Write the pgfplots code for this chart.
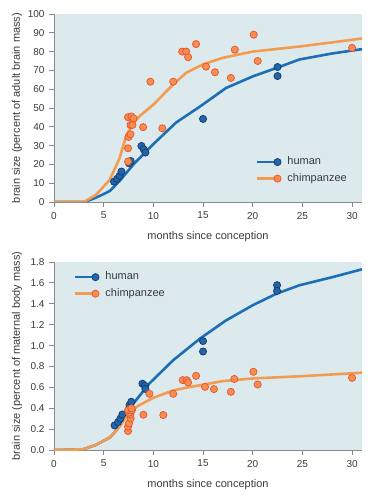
\documentclass[border=0pt]{standalone}
\usepackage{pgfplots}
\pgfplotsset{compat=1.18}
\usepackage{fontspec}
\setmainfont{Liberation Sans}
\definecolor{bgc}{HTML}{DDEAED}
\definecolor{hline}{HTML}{1D6FB5}
\definecolor{hfill}{HTML}{2364AA}
\definecolor{hedge}{HTML}{103C6C}
\definecolor{cline}{HTML}{F29C52}
\definecolor{cfill}{HTML}{FA8C52}
\definecolor{cedge}{HTML}{E2552A}
\definecolor{txt}{HTML}{3A3A3A}
\definecolor{axc}{HTML}{8A8A8A}
\tikzset{
  hmk/.style={draw=hedge, fill=hfill, line width=0.7pt},
  cmk/.style={draw=cedge, fill=cfill, line width=0.7pt},
}
\pgfplotsset{
  myaxis/.style={
    scale only axis, width=308pt, height=188pt,
    xmin=0, xmax=31, ymin=0,
    axis lines=left, axis line style={-, draw=axc, line width=0.8pt},
    axis background/.style={fill=bgc},
    tick align=outside, major tick length=5pt,
    tick style={draw=axc, line width=0.8pt},
    hide obscured x ticks=false, hide obscured y ticks=false,
    xtick={0,5,...,30},
    /pgf/number format/assume math mode=true,
    tick label style={font=\fontsize{10}{12}\selectfont, text=txt},
    xticklabel style={yshift=-1.5pt},
    yticklabel style={xshift=-1pt},
    label style={font=\fontsize{11}{13}\selectfont, text=txt},
    xlabel={months since conception},
    xlabel style={at={(axis description cs:0.5,0)}, anchor=center, yshift=-35pt},
    ylabel style={at={(axis description cs:-0.1201,0.5)}, anchor=center},
    legend style={draw=none, fill=none, inner sep=0pt, row sep=2pt,
      font=\fontsize{11}{13}\selectfont, text=txt,
      nodes={text height=8pt, text depth=2.5pt, inner sep=2pt},
      column sep=4pt},
    legend cell align=left,
  },
  hleg/.style={legend image code/.code={
      \draw[hline, line width=2.6pt] (0pt,0pt) -- (18pt,0pt);
      \draw[hmk] (21pt,0pt) circle (3.6pt);}},
  cleg/.style={legend image code/.code={
      \draw[cline, line width=2.6pt] (0pt,0pt) -- (18pt,0pt);
      \draw[cmk] (21pt,0pt) circle (3.6pt);}},
}
\begin{document}
\begin{tikzpicture}
\path[use as bounding box] (-54pt,-298pt) rectangle (319pt,202pt);
% ---------------- top panel ----------------
\begin{axis}[myaxis, at={(0pt,0pt)}, anchor=south west,
  ymax=100, ytick={0,10,...,100},
  ylabel={brain size (percent of adult brain mass)},
  legend style={at={(axis description cs:0.6526,0.252)}, anchor=north west}]
\addlegendimage{hleg}\addlegendentry{human}
\addlegendimage{cleg}\addlegendentry{chimpanzee}
\addplot[hline, line width=2.6pt, forget plot] coordinates {
 (0,0) (3,0) (4,1.8) (5,4.2) (5.65,6) (6.65,11.5) (8,20) (10,30.8) (12.3,42.3)
 (14.7,50.8) (17.3,60.6) (20,66.8) (22.5,71.5) (24.7,75.8) (28,79) (31,81.3)};
\addplot[cline, line width=2.6pt, forget plot] coordinates {
 (0,0) (3,0) (4.2,3.7) (5.6,11.7) (6.6,23.3) (7.3,35.8) (8,42) (8.6,45.6)
 (10,51.8) (12,62.5) (13.3,68.7) (15,73.2) (17,76.7) (20,80) (24.7,82.7)
 (28,84.9) (31,87)};
\addplot[only marks, mark=*, mark size=3.6pt, mark options={hmk}, forget plot] coordinates {
 (6.04,10.8) (6.35,12.3) (6.6,13.9) (6.79,16.2) (7.55,20.6) (7.72,21.8)
 (8.8,29.8) (9.03,28) (9.2,26.3) (15,44.2) (22.5,71.8) (22.5,67)};
\addplot[only marks, mark=*, mark size=3.6pt, mark options={cmk}, forget plot] coordinates {
 (7.45,21.5) (7.45,28.6) (7.5,34.6) (7.7,36) (7.7,41) (7.9,41) (7.45,45.1)
 (7.79,45.5) (8.0,44.5) (8.97,39.8) (9.7,64) (10.9,39.2) (12.0,64)
 (12.9,80) (13.3,80) (13.5,77) (14.3,84) (15.3,72) (16.2,69) (17.8,66)
 (18.2,81) (20.1,89) (20.5,75) (30,82)};
\end{axis}
% ---------------- bottom panel ----------------
\begin{axis}[myaxis, at={(0pt,-248pt)}, anchor=south west,
  ymax=1.8, ytick={0,0.2,...,1.8},
  yticklabel style={/pgf/number format/.cd, fixed, fixed zerofill, precision=1},
  ylabel={brain size (percent of maternal body mass)},
  legend style={at={(axis description cs:0.0617,0.959)}, anchor=north west}]
\addlegendimage{hleg}\addlegendentry{human}
\addlegendimage{cleg}\addlegendentry{chimpanzee}
\addplot[hline, line width=2.6pt, forget plot] coordinates {
 (0,0) (2.9,0.006) (4.2,0.048) (5.6,0.118) (6.3,0.19) (8,0.446) (9.6,0.637)
 (12,0.86) (14.7,1.067) (17.3,1.24) (20,1.386) (22.4,1.497) (24.7,1.577)
 (28.1,1.657) (31,1.73)};
\addplot[cline, line width=2.6pt, forget plot] coordinates {
 (0,0) (2.9,0.006) (4.2,0.048) (5.6,0.118) (6.6,0.223) (7.6,0.366) (8.6,0.43)
 (10,0.5) (12,0.57) (13.5,0.6) (15,0.625) (17,0.66) (20,0.685) (25,0.707)
 (31,0.74)};
\addplot[only marks, mark=*, mark size=3.6pt, mark options={hmk}, forget plot] coordinates {
 (6.1,0.235) (6.45,0.267) (6.68,0.30) (6.88,0.34) (7.6,0.43) (7.78,0.462)
 (8.9,0.635) (9.15,0.615) (9.2,0.585) (15,1.043) (15,0.943) (22.45,1.578)
 (22.45,1.523)};
\addplot[only marks, mark=*, mark size=3.6pt, mark options={cmk}, forget plot] coordinates {
 (7.45,0.182) (7.45,0.223) (7.55,0.255) (7.72,0.303) (7.69,0.341) (7.55,0.357)
 (7.45,0.382) (7.85,0.382) (7.79,0.400) (9.0,0.338) (9.6,0.538) (11.0,0.335)
 (12.0,0.538) (12.95,0.669) (13.35,0.669) (13.5,0.647) (14.3,0.71)
 (15.2,0.605) (16.1,0.583) (17.8,0.557) (18.15,0.68) (20.07,0.749)
 (20.5,0.627) (30,0.691)};
\end{axis}
\end{tikzpicture}
\end{document}
